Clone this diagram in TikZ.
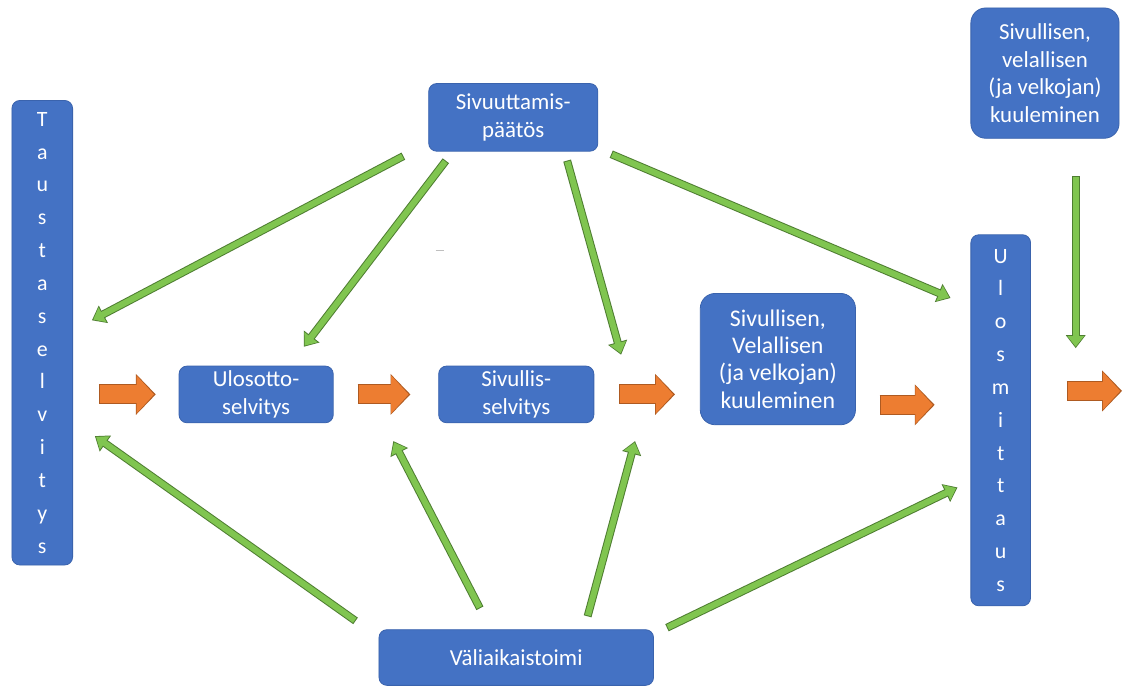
\documentclass[tikz,border=0pt]{standalone}
\usepackage{fontspec}
\setmainfont{Carlito}
\usetikzlibrary{arrows.meta,calc}

\definecolor{laatikko}{HTML}{4472C4}
\definecolor{laatikkoreuna}{HTML}{3A63AD}
\definecolor{vihrea}{HTML}{80C550}
\definecolor{vihreareuna}{HTML}{4E7D31}
\definecolor{oranssi}{HTML}{ED7D31}
\definecolor{oranssireuna}{HTML}{AE5A21}

\begin{document}
\begin{tikzpicture}[x=1pt,y=-1pt,
	box/.style={draw=laatikkoreuna, fill=laatikko, text=white, line width=0.8pt,
		rounded corners=8pt, inner sep=0pt, align=center,
		font=\fontsize{23}{27.5}\selectfont},
	pystybox/.style={box, font=\fontsize{22}{33}\selectfont},
	garrow/.style={draw=vihrea, line width=6pt, -{Triangle[length=10.5pt,width=16pt]}, shorten >=1.5pt,
		preaction={draw=vihreareuna, line width=8pt, -{Triangle[length=13pt,width=19pt]},
			shorten >=0pt, shorten <=-1pt}},
	oarrow/.style={draw=oranssi, line width=18pt, -{Triangle[length=17.5pt,width=37pt]}, shorten >=1.8pt,
		preaction={draw=oranssireuna, line width=20pt, -{Triangle[length=20pt,width=40pt]},
			shorten >=0pt, shorten <=-1pt}}]
				%\draw[help lines] (0,0) grid[step=100] (1132,691);
				\fill[white] (0,0) rectangle (1132,691);
				
				\node[pystybox, minimum width=61pt, minimum height=467pt] (tausta) at (42.5,334.5)
					{T\\a\\u\\s\\t\\a\\s\\e\\l\\v\\i\\t\\y\\s};
				\node[box, minimum width=170pt, minimum height=68pt] (paatos) at (516,118) {Sivuuttamis-\\päätös};
				\node[box, minimum width=155pt, minimum height=57pt] (ulosotto) at (257.5,396.5) {Ulosotto-\\selvitys};
				\node[box, minimum width=156pt, minimum height=57pt] (sivsel) at (519,396.5) {Sivullis-\\selvitys};
				\node[box, rounded corners=15pt, minimum width=156pt, minimum height=132pt,
					font=\fontsize{24}{27.5}\selectfont] (kuuleminen) at (782,361)
					{Sivullisen,\\Velallisen\\(ja velkojan)\\kuuleminen};
				\node[pystybox, minimum width=60pt, minimum height=373pt] (ulosm) at (1006,422.5)
					{U\\l\\o\\s\\m\\i\\t\\t\\a\\u\\s};
				\node[box, rounded corners=15pt, minimum width=149pt, minimum height=131pt] (kuuleminen2) at (1050.5,73.5)
					{Sivullisen,\\velallisen\\(ja velkojan)\\kuuleminen};
				\node[box, minimum width=276pt, minimum height=56pt] (vali) at (519,661) {Väliaikaistoimi};
				\coordinate (ulos) at (1128,393);
				
				% vihreat nuolet
				\draw[garrow] ([shift={(-26,5)}]paatos.south west) -- ([shift={(19,-12.5)}]tausta.east);
				\draw[garrow] ([shift={(17,10)}]paatos.south west) -- ([shift={(-30,-19)}]ulosotto.north east);
				\draw[garrow] ([shift={(-31,10)}]paatos.south east) -- ([shift={(27,-11)}]sivsel.north east);
				\draw[garrow] ([shift={(14,3)}]paatos.south east) -- ([shift={(-20,64)}]ulosm.north west);
				\draw[garrow] ([shift={(-44,39)}]kuuleminen2.south east) -- ([shift={(45,-72.5)}]ulosm.east);
				\draw[garrow] ([shift={(-24,-9)}]vali.north west) -- ([shift={(22,-130)}]tausta.south east);
				\draw[garrow] ([shift={(-37,-22)}]vali.north) -- ([shift={(60,18)}]ulosotto.south east);
				\draw[garrow] ([shift={(72,-14)}]vali.north) -- ([shift={(41,18)}]sivsel.south east);
				\draw[garrow] ([shift={(14,-2)}]vali.north east) -- ([shift={(-13,67.5)}]ulosm.west);
				
				% oranssit nuolet
				\draw[oarrow] ($(tausta.east |- ulosotto.west)+(27,0)$) -- ($(ulosotto.west)+(-23,0)$);
				\draw[oarrow] ($(ulosotto.east)+(25,0)$) -- ($(sivsel.west)+(-28,0)$);
				\draw[oarrow] ($(sivsel.east)+(26,0)$) -- ($(kuuleminen.west |- sivsel.east)+(-25,0)$);
				\draw[oarrow] ($(kuuleminen.east)+(25,46)$) -- ($(ulosm.west |- kuuleminen.east)+(-36,46)$);
				\draw[oarrow] ($(ulosm.east)+(37,-29.5)$) -- (ulos);
				
				\draw[gray!50, line width=1pt] (438,252) -- (446,252);
				\end{tikzpicture}
\end{document}
